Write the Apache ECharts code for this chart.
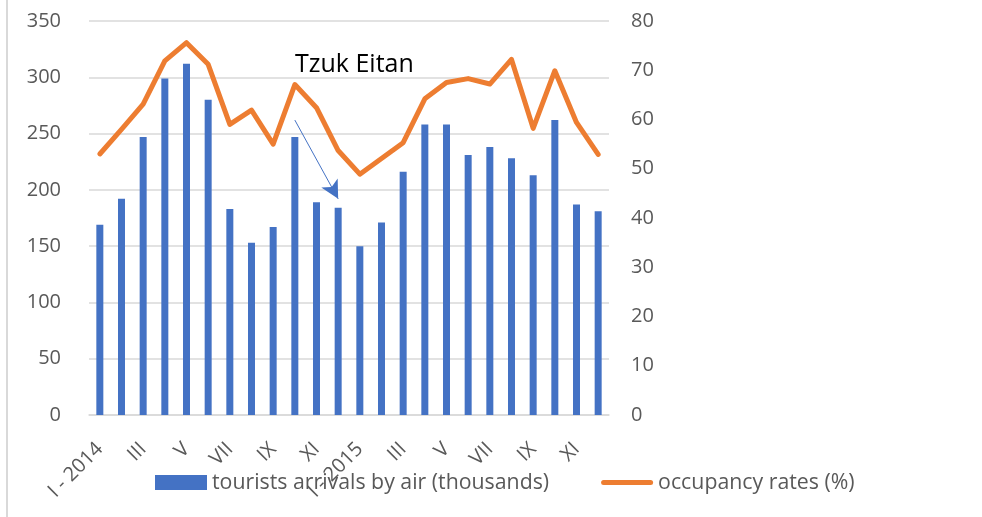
<!DOCTYPE html>
<html>
<head>
<meta charset="utf-8">
<script src="https://cdn.jsdelivr.net/npm/echarts@6/dist/echarts.min.js"></script>
<style>
  html, body { margin: 0; padding: 0; background: #fff; }
  #chart { width: 982px; height: 517px; }
</style>
</head>
<body>
<div id="chart"></div>
<script>
// months, two years
const months = ['I - 2014', 'II', 'III', 'IV', 'V', 'VI', 'VII', 'VIII', 'IX', 'X', 'XI', 'XII',
  'I - 2015', 'II', 'III', 'IV', 'V', 'VI', 'VII', 'VIII', 'IX', 'X', 'XI', 'XII']

// tourists arrivals by air (thousands)
const arrivals = [169, 192, 247, 299, 312, 280, 183, 153, 167, 247, 189, 184,
  150, 171, 216, 258, 258, 231, 238, 228, 213, 262, 187, 181]

// occupancy rates (%)
const occupancy = [53.0, 58.0, 63.1, 71.9, 75.6, 71.2, 59.0, 61.9, 55.0, 67.1, 62.4, 53.7,
  48.9, 52.1, 55.3, 64.2, 67.5, 68.3, 67.2, 72.2, 58.2, 69.9, 59.4, 52.9]

const leftTicks = { min: 0, max: 350, interval: 50 }
const rightTicks = { min: 0, max: 80, interval: 10 }

const font = '"Open Sans", Lato, sans-serif'
// thin rounded bar used as the line legend icon
const lineIcon = 'path://M2.5,0 L49.5,0 A2.5,2.5 0 0 1 49.5,5 L2.5,5 A2.5,2.5 0 0 1 2.5,0 Z'

const chart = echarts.init(document.getElementById('chart'))

const option = {
  animation: false,
  textStyle: { fontFamily: font },
  grid: { left: 89, right: 373, top: 21, bottom: 102 },
  legend: {
    bottom: 24,
    left: 155,
    padding: 0,
    itemGap: 52,
    itemWidth: 52,
    itemHeight: 15,
    symbolKeepAspect: true,
    textStyle: { fontFamily: font, fontSize: 21.3, color: '#595959', padding: [0, 0, 0, 0] },
    data: [
      { name: 'tourists arrivals by air (thousands)', icon: 'rect' },
      { name: 'occupancy rates (%)', icon: lineIcon }
    ]
  },
  xAxis: {
    type: 'category',
    data: months,
    axisLine: { lineStyle: { color: '#D9D9D9', width: 1.5 } },
    axisTick: { show: false },
    axisLabel: {
      interval: 1,
      rotate: 45,
      margin: 31,
      fontFamily: font,
      fontSize: 20,
      color: '#595959'
    }
  },
  yAxis: [
    {
      type: 'value',
      ...leftTicks,
      axisLine: { show: false },
      axisTick: { show: false },
      splitLine: { lineStyle: { color: '#D9D9D9', width: 1.5 } },
      axisLabel: { margin: 28, fontFamily: font, fontSize: 20, color: '#595959' }
    },
    {
      type: 'value',
      ...rightTicks,
      position: 'right',
      axisLine: { show: false },
      axisTick: { show: false },
      splitLine: { show: false },
      axisLabel: { margin: 22, fontFamily: font, fontSize: 20, color: '#595959' }
    }
  ],
  series: [
    {
      name: 'tourists arrivals by air (thousands)',
      type: 'bar',
      data: arrivals,
      barWidth: 7,
      itemStyle: { color: '#4472C4' },
      markLine: {
        silent: true,
        symbol: ['none', 'arrow'],
        symbolSize: [14, 18],
        label: { show: false },
        lineStyle: { color: '#4472C4', type: 'solid', width: 1 },
        data: [[{ coord: [9, 262] }, { coord: [11, 192] }]]
      }
    },
    {
      name: 'occupancy rates (%)',
      type: 'line',
      yAxisIndex: 1,
      data: occupancy,
      symbol: 'none',
      lineStyle: { color: '#ED7D31', width: 5, cap: 'round', join: 'round' },
      itemStyle: { color: '#ED7D31' }
    }
  ],
  graphic: [
    {
      type: 'line',
      shape: { x1: 7, y1: 0, x2: 7, y2: 517 },
      style: { stroke: '#D9D9D9', lineWidth: 2 }
    },
    {
      type: 'text',
      left: 295,
      top: 52,
      style: { text: 'Tzuk Eitan', fontFamily: font, fontSize: 25, fill: '#000' }
    }
  ]
}

chart.setOption(option)
</script>
</body>
</html>
